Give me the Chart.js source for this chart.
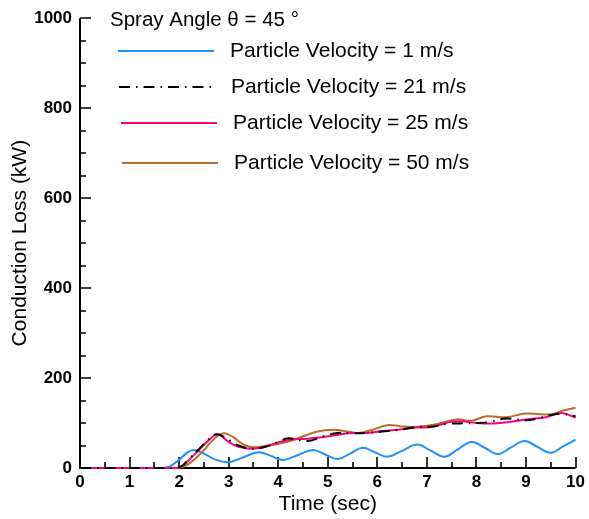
<!DOCTYPE html>
<html>
<head>
<meta charset="utf-8">
<script src="https://cdn.jsdelivr.net/npm/chart.js@4.4.1/dist/chart.umd.min.js"></script>
<style>
  html, body { margin: 0; padding: 0; background: #fff; }
  #wrap { width: 589px; height: 519px; }
</style>
</head>
<body>
<div id="wrap"><canvas id="lossChart" width="589" height="519"></canvas></div>
<script>
// conduction loss vs time, one series per particle velocity
const legendTitle = 'Spray Angle \u03b8 = 45 \u00b0'
const seriesLabels = [
    'Particle Velocity = 1 m/s',
    'Particle Velocity = 21 m/s',
    'Particle Velocity = 25 m/s',
    'Particle Velocity = 50 m/s'
]

const timeV1 = [0, 1.6, 1.8, 2.0, 2.15, 2.3, 2.5, 2.75, 3.0, 3.3, 3.6, 3.85, 4.1, 4.4, 4.7, 4.95, 5.2, 5.45, 5.7, 5.95, 6.2, 6.5, 6.8, 7.07, 7.35, 7.62, 7.9, 8.17, 8.43, 8.7, 8.97, 9.23, 9.5, 9.75, 10]
const lossV1 = [0, 0, 3, 18, 33, 40, 32, 18, 13, 24, 35, 27, 18, 29, 40, 30, 20, 32, 45, 35, 25, 38, 52, 39, 25, 41, 58, 45, 31, 46, 60, 47, 34, 48, 63]

const timeV21 = [0, 1.9, 2.05, 2.2, 2.4, 2.6, 2.75, 2.95, 3.2, 3.45, 3.7, 4.0, 4.2, 4.6, 4.9, 5.2, 5.5, 5.8, 6.1, 6.5, 6.8, 7.1, 7.4, 7.65, 8.0, 8.25, 8.6, 9.0, 9.3, 9.55, 9.75, 10]
const lossV21 = [0, 0, 4, 20, 42, 64, 75, 66, 50, 43, 46, 58, 66, 60, 70, 78, 77, 78, 81, 86, 91, 92, 98, 99, 100, 102, 110, 106, 112, 119, 120, 115]

const timeV25 = [0, 1.9, 2.05, 2.2, 2.4, 2.6, 2.78, 3.0, 3.2, 3.45, 3.7, 4.0, 4.3, 4.6, 5.0, 5.4, 5.8, 6.1, 6.5, 6.8, 7.1, 7.45, 7.7, 8.0, 8.35, 8.65, 9.0, 9.4, 9.72, 10]
const lossV25 = [0, 0, 3, 18, 40, 62, 75, 58, 47, 43, 46, 57, 64, 65, 70, 77, 78, 82, 86, 90, 91, 102, 104, 100, 99, 102, 108, 113, 122, 112]

const timeV50 = [0, 1.95, 2.1, 2.3, 2.5, 2.7, 2.9, 3.1, 3.3, 3.5, 3.8, 4.1, 4.4, 4.75, 5.1, 5.3, 5.6, 5.9, 6.2, 6.45, 6.7, 7.0, 7.25, 7.6, 7.9, 8.2, 8.6, 9.0, 9.5, 9.75, 10]
const lossV50 = [0, 0, 3, 18, 40, 64, 77, 68, 52, 46, 50, 56, 66, 80, 85, 83, 78, 85, 95, 93, 91, 94, 99, 108, 105, 115, 113, 121, 119, 128, 134]

const xTicks = [0, 1, 2, 3, 4, 5, 6, 7, 8, 9, 10]
const yTicks = [0, 200, 400, 600, 800, 1000]

const lineColors = ['rgb(30, 144, 255)', 'rgb(0, 0, 0)', 'rgb(255, 0, 128)', 'rgb(184, 110, 40)']
const dashes = [[], [11, 6, 1.5, 6], [], []]
// higher number is painted first: blue at the bottom, dash-dot on top
const drawOrder = [4, 1, 2, 3]
const FONT = '"Liberation Sans", Arial, sans-serif'

function toPoints(times, values) {
    return times.map((t, i) => ({ x: t, y: values[i] }))
}

const seriesData = [
    toPoints(timeV1, lossV1),
    toPoints(timeV21, lossV21),
    toPoints(timeV25, lossV25),
    toPoints(timeV50, lossV50)
]

// axis lines with inward major/minor ticks, drawn under the curves
const axisFrame = {
    id: 'axisFrame',
    beforeDatasetsDraw(chart) {
        const ctx = chart.ctx
        const xs = chart.scales.x
        const ys = chart.scales.y
        const area = chart.chartArea
        ctx.save()
        ctx.strokeStyle = '#000'
        ctx.lineWidth = 2
        ctx.beginPath()
        ctx.moveTo(area.left, area.top)
        ctx.lineTo(area.left, area.bottom)
        ctx.lineTo(area.right, area.bottom)
        ctx.stroke()

        ctx.lineWidth = 1.6
        ctx.beginPath()
        for (let t = 0; t <= 10.001; t += 0.5) {
            const px = Math.round(xs.getPixelForValue(t))
            const len = Math.abs(t - Math.round(t)) < 0.01 ? 11 : 6
            ctx.moveTo(px, area.bottom)
            ctx.lineTo(px, area.bottom - len)
        }
        for (let v = 0; v <= 1000; v += 50) {
            const py = Math.round(ys.getPixelForValue(v))
            const len = v % 200 === 0 ? 11 : 6
            ctx.moveTo(area.left, py)
            ctx.lineTo(area.left + len, py)
        }
        ctx.stroke()
        ctx.restore()
    }
}

// legend block in the upper left of the plot
const legendBlock = {
    id: 'legendBlock',
    afterDraw(chart) {
        const ctx = chart.ctx
        ctx.save()
        ctx.fillStyle = '#000'
        ctx.textBaseline = 'middle'
        ctx.font = '20.5px ' + FONT
        ctx.fillText(legendTitle, 110, 20)
        const rows = [
            { x0: 118, x1: 214, y: 51, tx: 230 },
            { x0: 119, x1: 216, y: 87, tx: 231 },
            { x0: 121, x1: 217, y: 123, tx: 233 },
            { x0: 122, x1: 218, y: 163, tx: 234 }
        ]
        ctx.font = '21px ' + FONT
        rows.forEach((row, i) => {
            ctx.strokeStyle = lineColors[i]
            ctx.lineWidth = 2.2
            ctx.setLineDash(dashes[i])
            ctx.beginPath()
            ctx.moveTo(row.x0, row.y)
            ctx.lineTo(row.x1, row.y)
            ctx.stroke()
            ctx.setLineDash([])
            ctx.fillText(seriesLabels[i], row.tx, row.y)
        })
        ctx.restore()
    }
}

const context = document.getElementById('lossChart')
const data = {
    datasets: seriesData.map((points, i) => ({
        label: seriesLabels[i],
        data: points,
        order: drawOrder[i],
        borderColor: lineColors[i],
        borderWidth: 2,
        borderDash: dashes[i],
        pointRadius: 0,
        tension: 0.4,
        fill: false,
        clip: false
    }))
}

const config = {
    type: 'line',
    data: data,
    options: {
        responsive: false,
        animation: false,
        layout: { padding: { top: 16, right: 11, left: 0, bottom: 0 } },
        plugins: {
            legend: { display: false },
            tooltip: { enabled: false }
        },
        scales: {
            x: {
                type: 'linear',
                min: 0,
                max: 10,
                border: { display: false },
                grid: { display: false, drawTicks: false },
                afterBuildTicks: scale => { scale.ticks = xTicks.map(v => ({ value: v })) },
                afterFit: scale => { scale.height = 51 },
                ticks: {
                    color: '#000',
                    padding: 4,
                    maxRotation: 0,
                    callback: value => String(value),
                    font: { family: FONT, size: 17, weight: 'bold' }
                },
                title: {
                    display: true,
                    text: 'Time (sec)',
                    color: '#000',
                    padding: { top: 0, bottom: 2 },
                    font: { family: FONT, size: 21 }
                }
            },
            y: {
                min: 0,
                max: 1000,
                border: { display: false },
                grid: { display: false, drawTicks: false },
                afterBuildTicks: scale => { scale.ticks = yTicks.map(v => ({ value: v })) },
                afterFit: scale => { scale.width = 80 },
                ticks: {
                    color: '#000',
                    padding: 8,
                    callback: value => String(value),
                    font: { family: FONT, size: 17, weight: 'bold' }
                },
                title: {
                    display: true,
                    text: 'Conduction Loss (kW)',
                    color: '#000',
                    padding: { top: 8, bottom: 0 },
                    font: { family: FONT, size: 21 }
                }
            }
        }
    },
    plugins: [axisFrame, legendBlock]
}

new Chart(context, config)
</script>
</body>
</html>
